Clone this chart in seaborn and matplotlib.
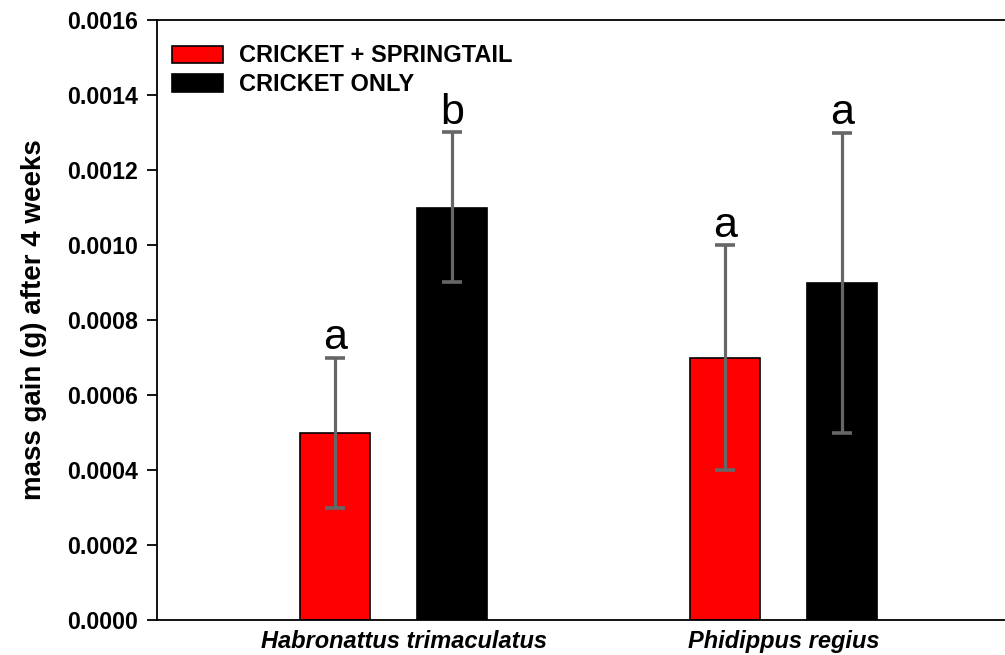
import numpy as np
import pandas as pd
import matplotlib
matplotlib.use("Agg")
import matplotlib.pyplot as plt
import matplotlib.transforms as mtransforms
from matplotlib.ticker import FormatStrFormatter, MultipleLocator
import seaborn as sns

SPECIES = ["Habronattus trimaculatus", "Phidippus regius"]
TREATMENTS = ["CRICKET + SPRINGTAIL", "CRICKET ONLY"]
MEANS = {
    "CRICKET + SPRINGTAIL": [0.0005, 0.0007],
    "CRICKET ONLY": [0.0011, 0.0009],
}
ERRORS = {
    "CRICKET + SPRINGTAIL": [0.0002, 0.0003],
    "CRICKET ONLY": [0.0002, 0.0004],
}
LETTERS = {
    "CRICKET + SPRINGTAIL": ["a", "a"],
    "CRICKET ONLY": ["b", "a"],
}
COLORS = {"CRICKET + SPRINGTAIL": "#ff0000", "CRICKET ONLY": "#000000"}

rows = []
for t in TREATMENTS:
    for i, s in enumerate(SPECIES):
        rows.append({"species": s, "treatment": t, "mean": MEANS[t][i],
                     "err": ERRORS[t][i], "letter": LETTERS[t][i]})
df = pd.DataFrame(rows)

sns.set_style("ticks")
plt.rcParams["font.family"] = ["Liberation Sans", "DejaVu Sans"]
plt.rcParams["text.color"] = "black"
plt.rcParams["axes.labelcolor"] = "black"
plt.rcParams["xtick.color"] = "black"
plt.rcParams["ytick.color"] = "black"
plt.rcParams["axes.edgecolor"] = "black"

fig = plt.figure(figsize=(10.05, 6.55), dpi=100)
ax = fig.add_axes([157 / 1005, 1 - 620 / 655, 1 - 157 / 1005, 600 / 655])

sns.barplot(data=df, x="species", y="mean", hue="treatment", order=SPECIES,
            hue_order=TREATMENTS, palette=COLORS, width=0.6, gap=0.4,
            saturation=1, errorbar=None, edgecolor="black", linewidth=1.2, ax=ax)

# error bars + significance letters, placed on the drawn bars
for cont, t in zip(ax.containers, TREATMENTS):
    sub = df[df["treatment"] == t].set_index("species").loc[SPECIES]
    xs = [b.get_x() + b.get_width() / 2 for b in cont]
    ax.errorbar(xs, sub["mean"], yerr=sub["err"], fmt="none", ecolor="#666666",
                elinewidth=2.3, capsize=7, capthick=2.6, zorder=5)
    for x, m, e, lab in zip(xs, sub["mean"], sub["err"], sub["letter"]):
        ax.annotate(lab, (x, m + e), xytext=(0, 6), textcoords="offset points",
                    ha="center", va="baseline", fontsize=31)

ax.set_ylim(0, 0.0016)
ax.set_xlim(-0.607, 1.568)
ax.yaxis.set_major_locator(MultipleLocator(0.0002))
ax.yaxis.set_major_formatter(FormatStrFormatter("%.4f"))
ax.tick_params(axis="y", direction="out", length=7, width=1.3, labelsize=16.7, pad=7)
ax.tick_params(axis="x", length=0, labelsize=17, pad=7)
for lab in ax.get_yticklabels():
    lab.set_fontweight("bold")
for lab in ax.get_xticklabels():
    lab.set_fontweight("bold")
    lab.set_fontstyle("italic")
# first species label sits a little right of its group in the original
xlab0 = ax.get_xticklabels()[0]
xlab0.set_transform(xlab0.get_transform() +
                    mtransforms.ScaledTranslation(0.1, 0, fig.dpi_scale_trans))

for side in ["left", "bottom", "top"]:
    ax.spines[side].set_linewidth(1.3)
ax.spines["right"].set_visible(False)

ax.set_xlabel("")
ax.set_ylabel("mass gain (g) after 4 weeks", fontsize=20, fontweight="bold", labelpad=14)

leg = ax.legend(loc="upper left", frameon=False,
                prop={"weight": "bold", "size": 17},
                handlelength=2.2, handleheight=0.75, handletextpad=0.65,
                labelspacing=0.25, borderaxespad=0, bbox_to_anchor=(0.006, 0.975))
for h in leg.legend_handles:
    h.set_edgecolor("black")

fig.savefig("out.png", dpi=100)
